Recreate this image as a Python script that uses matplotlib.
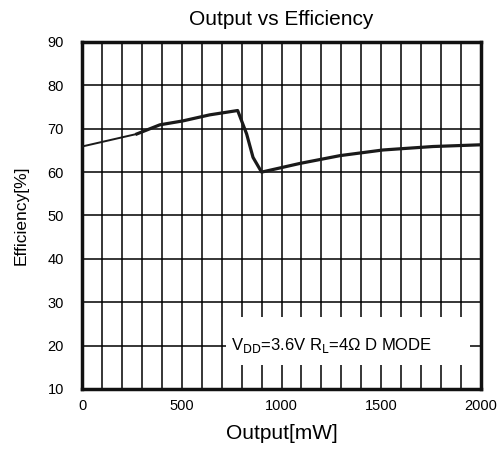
import numpy as np
import matplotlib
matplotlib.use("Agg")
import matplotlib.pyplot as plt
from matplotlib.patches import Rectangle

plt.rcParams['font.family'] = ['Liberation Sans', 'DejaVu Sans']

# Datos (salida en mW, eficiencia en %)
salida_mw = [0, 275, 390, 505, 640, 780, 825, 857, 900, 1092, 1293, 1508, 1759, 2000]
eficiencia = [65.9, 68.8, 70.9, 71.8, 73.2, 74.2, 68.8, 63.4, 60.0, 62.0, 63.8, 65.1, 65.9, 66.3]

ticks_x = [0, 500, 1000, 1500, 2000]
ticks_y = [10, 20, 30, 40, 50, 60, 70, 80, 90]

fig = plt.figure(figsize=(4.98, 4.5), dpi=100)
ax = fig.add_axes([0.1647, 0.1356, 0.8013, 0.7711])

# tramo inicial fino y el resto grueso, como en la hoja de datos
ax.plot(salida_mw[:2], eficiencia[:2], color='#1a1a1a', lw=1.4, zorder=3)
ax.plot(salida_mw[1:], eficiencia[1:], color='#1a1a1a', lw=2.3, zorder=3)

ax.set_xlim(0, 2000)
ax.set_ylim(10, 90)
ax.set_xticks(np.arange(0, 2001, 100))
ax.set_xticklabels([str(v) if v in ticks_x else '' for v in range(0, 2001, 100)])
ax.set_yticks(ticks_y)
ax.grid(True, color='black', lw=1.1)
ax.tick_params(length=0, labelsize=10.5)
ax.tick_params(axis='x', pad=7)
ax.tick_params(axis='y', pad=13)
for lab in ax.get_xticklabels() + ax.get_yticklabels():
    lab.set_family(['Liberation Sans Narrow', 'Liberation Sans'])
for s in ax.spines.values():
    s.set_linewidth(2.5)
    s.set_color('#111111')

ax.set_title("Output vs Efficiency", fontsize=15, pad=12)
ax.set_xlabel("Output[mW]", fontsize=15, labelpad=8)
ax.set_ylabel("Efficiency[%]", fontsize=12.5, labelpad=14)

# recuadro blanco detrás del texto
ax.add_patch(Rectangle((723, 15.5), 1222, 11.1, facecolor='white', edgecolor='none', zorder=2.5))
ax.text(748, 20, "V$_{\\mathrm{DD}}$=3.6V R$_{\\mathrm{L}}$=4Ω D MODE", fontsize=12, va='center', ha='left',
        zorder=4)

fig.savefig("out.png", dpi=100)
